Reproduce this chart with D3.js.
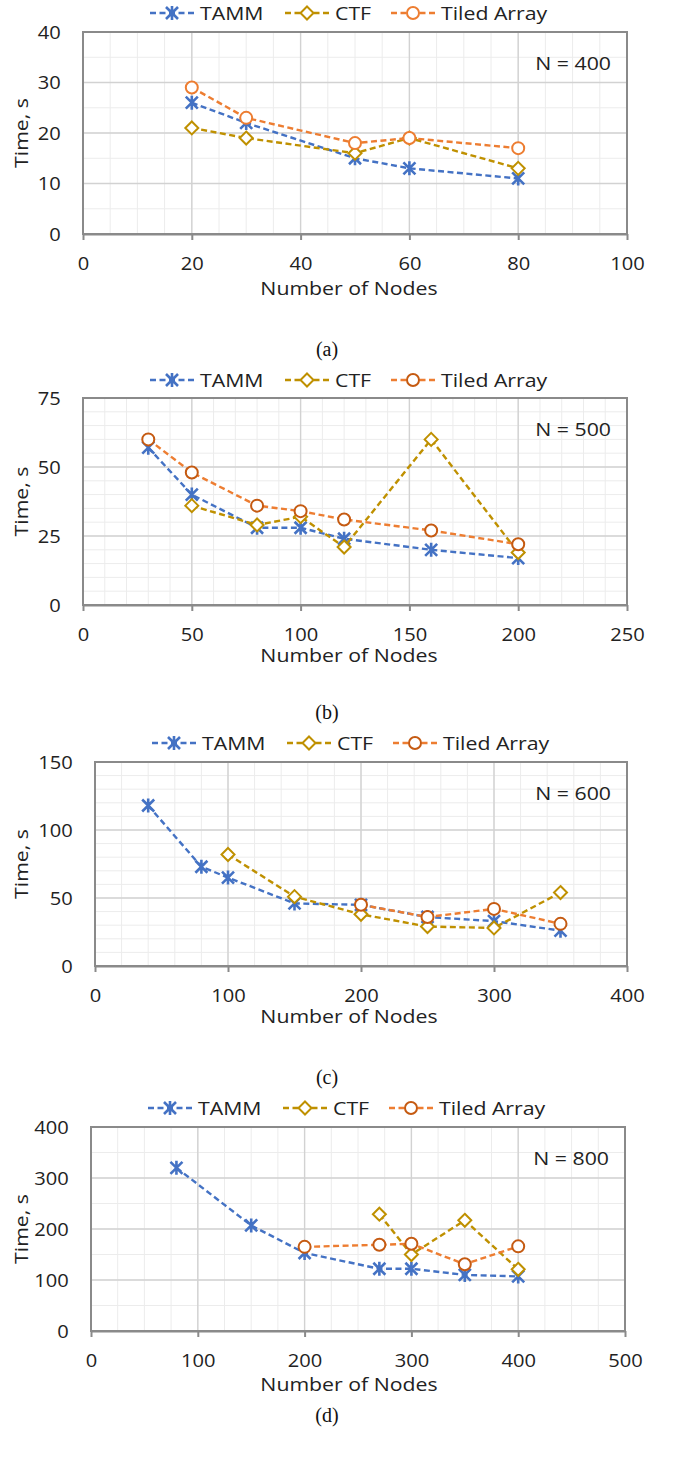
<!DOCTYPE html>
<html>
<head>
<meta charset="utf-8">
<script src="https://cdn.jsdelivr.net/npm/d3@7"></script>
<style>
  body { margin: 0; background: #fff; }
  svg { display: block; }
</style>
</head>
<body>
<svg id="chart"></svg>
<script>
// ---- data ----
const seriesNames = ["TAMM", "CTF", "Tiled Array"];

// (a) N = 400
const nodesA = [20, 30, 50, 60, 80];
const tammA = [26, 22, 15, 13, 11];
const ctfA = [21, 19, 16, 19, 13];
const tiledA = [29, 23, 18, 19, 17];

// (b) N = 500
const nodesB = [30, 50, 80, 100, 120, 160, 200];
const tammB = [57, 40, 28, 28, 24, 20, 17];
const ctfNodesB = [50, 80, 100, 120, 160, 200];
const ctfB = [36, 29, 32, 21, 60, 19];
const tiledB = [60, 48, 36, 34, 31, 27, 22];

// (c) N = 600
const tammNodesC = [40, 80, 100, 150, 200, 250, 300, 350];
const tammC = [118, 73, 65, 46, 45, 36, 33, 26];
const ctfNodesC = [100, 150, 200, 250, 300, 350];
const ctfC = [82, 51, 38, 29, 28, 54];
const tiledNodesC = [200, 250, 300, 350];
const tiledC = [45, 36, 42, 31];

// (d) N = 800
const tammNodesD = [80, 150, 200, 270, 300, 350, 400];
const tammD = [320, 207, 153, 122, 122, 110, 107];
const ctfNodesD = [270, 300, 350, 400];
const ctfD = [229, 150, 217, 121];
const tiledNodesD = [200, 270, 300, 350, 400];
const tiledD = [165, 169, 171, 131, 166];

const zip = (xs, ys) => xs.map((x, i) => ({x: x, y: ys[i]}));

const W = 673, H = 1457;
const FONT = "'Open Sans', sans-serif";
const FS = 19;
const SX = 1.12;          // titles / legend are a bit wider than the font
const SX_TICK = 1.06;
const TXT = "#222";

const colors = {tamm: "#4472C4", ctf: "#BF9000", tiled: "#ED7D31"};

const panels = [
  {box: [83, 32, 627, 234], xMax: 100, xMajor: 20, xMinor: 5, yMax: 40, yMajor: 10, yMinor: 5,
   label: "N = 400", caption: "(a)", capY: 349, legY: 13, legDx: 0, titleY: 288, tiledMark: "#ED7D31",
   data: [zip(nodesA, tammA), zip(nodesA, ctfA), zip(nodesA, tiledA)]},
  {box: [83, 398, 627, 605], xMax: 250, xMajor: 50, xMinor: 10, yMax: 75, yMajor: 25, yMinor: 5,
   label: "N = 500", caption: "(b)", capY: 712, legY: 380, legDx: 0, titleY: 655, tiledMark: "#C55A11",
   data: [zip(nodesB, tammB), zip(ctfNodesB, ctfB), zip(nodesB, tiledB)]},
  {box: [95, 762, 627, 966], xMax: 400, xMajor: 100, xMinor: 20, yMax: 150, yMajor: 50, yMinor: 10,
   label: "N = 600", caption: "(c)", capY: 1077, legY: 743, legDx: 2, titleY: 1016, tiledMark: "#C55A11",
   data: [zip(tammNodesC, tammC), zip(ctfNodesC, ctfC), zip(tiledNodesC, tiledC)]},
  {box: [91, 1127, 625, 1331], xMax: 500, xMajor: 100, xMinor: 25, yMax: 400, yMajor: 100, yMinor: 50,
   label: "N = 800", caption: "(d)", capY: 1415, legY: 1108, legDx: -2, titleY: 1384, tiledMark: "#C55A11",
   data: [zip(tammNodesD, tammD), zip(ctfNodesD, ctfD), zip(tiledNodesD, tiledD)]}
];

const svg = d3.select("#chart").attr("width", W).attr("height", H);
svg.append("rect").attr("width", W).attr("height", H).attr("fill", "#fff");

function label(g, x, y, str, anchor, rot) {
  return g.append("text")
    .attr("transform", `translate(${x},${y})` + (rot ? ` rotate(${rot})` : "") + ` scale(${SX},1)`)
    .attr("text-anchor", anchor || "middle")
    .attr("font-family", FONT)
    .attr("font-size", FS)
    .attr("fill", TXT)
    .text(str);
}

function drawMarker(g, kind, x, y, color) {
  if (kind === 0) {
    const r = 6;
    g.append("path")
      .attr("d", `M${x - r},${y - r}L${x + r},${y + r}M${x - r},${y + r}L${x + r},${y - r}M${x},${y - r - 1}L${x},${y + r + 1}`)
      .attr("stroke", color).attr("stroke-width", 2.6).attr("fill", "none");
  } else if (kind === 1) {
    const r = 6.5;
    g.append("path")
      .attr("d", `M${x},${y - r}L${x + r},${y}L${x},${y + r}L${x - r},${y}Z`)
      .attr("stroke", color).attr("stroke-width", 2).attr("fill", "#fff");
  } else {
    g.append("circle").attr("cx", x).attr("cy", y).attr("r", 6)
      .attr("stroke", color).attr("stroke-width", 2).attr("fill", "#fff");
  }
}

function drawPanel(p) {
  const [x0, y0, x1, y1] = p.box;
  const g = svg.append("g");

  const x = d3.scaleLinear().domain([0, p.xMax]).range([x0, x1]);
  const y = d3.scaleLinear().domain([0, p.yMax]).range([y1, y0]);

  // minor grid
  g.append("g").selectAll("line")
    .data(d3.range(0, p.xMax + 0.001, p.xMinor))
    .join("line")
      .attr("x1", d => x(d)).attr("x2", d => x(d))
      .attr("y1", y0).attr("y2", y1)
      .attr("stroke", "#ececec").attr("stroke-width", 1);
  g.append("g").selectAll("line")
    .data(d3.range(0, p.yMax + 0.001, p.yMinor))
    .join("line")
      .attr("x1", x0).attr("x2", x1)
      .attr("y1", d => y(d)).attr("y2", d => y(d))
      .attr("stroke", "#ececec").attr("stroke-width", 1);
  // major grid
  g.append("g").selectAll("line")
    .data(d3.range(0, p.xMax + 0.001, p.xMajor))
    .join("line")
      .attr("x1", d => x(d)).attr("x2", d => x(d))
      .attr("y1", y0).attr("y2", y1)
      .attr("stroke", "#d2d2d2").attr("stroke-width", 1.4);
  g.append("g").selectAll("line")
    .data(d3.range(0, p.yMax + 0.001, p.yMajor))
    .join("line")
      .attr("x1", x0).attr("x2", x1)
      .attr("y1", d => y(d)).attr("y2", d => y(d))
      .attr("stroke", "#d2d2d2").attr("stroke-width", 1.4);

  // frame
  g.append("rect")
    .attr("x", x0).attr("y", y0).attr("width", x1 - x0).attr("height", y1 - y0)
    .attr("fill", "none").attr("stroke", "#8a8a8a").attr("stroke-width", 2);

  // x axis
  const xAxis = d3.axisBottom(x)
    .tickValues(d3.range(0, p.xMax + 0.001, p.xMajor))
    .tickSize(6).tickSizeOuter(0).tickPadding(17)
    .tickFormat(d3.format("d"));
  const xa = g.append("g").attr("transform", `translate(0,${y1})`).call(xAxis);
  xa.select(".domain").attr("stroke", "#8a8a8a").attr("stroke-width", 2);
  xa.selectAll(".tick line").attr("stroke", "#8a8a8a").attr("stroke-width", 2);
  xa.selectAll(".tick text")
    .attr("font-family", FONT).attr("font-size", FS).attr("fill", TXT)
    .attr("transform", `scale(${SX_TICK},1)`);

  // y axis
  const yAxis = d3.axisLeft(y)
    .tickValues(d3.range(0, p.yMax + 0.001, p.yMajor))
    .tickSize(0).tickPadding(21)
    .tickFormat(d3.format("d"));
  const ya = g.append("g").attr("transform", `translate(${x0},0)`).call(yAxis);
  ya.select(".domain").remove();
  ya.selectAll(".tick text")
    .attr("font-family", FONT).attr("font-size", FS).attr("fill", TXT)
    .attr("transform", `scale(${SX_TICK},1)`);

  // titles
  label(g, 349, p.titleY + 6.8, "Number of Nodes");
  label(g, 28, (y0 + y1) / 2, "Time, s", "middle", -90);
  label(g, x1 - 16, y0 + 31 + 6.8, p.label, "end");

  g.append("text")
    .attr("x", 327).attr("y", p.capY + 6.5)
    .attr("text-anchor", "middle")
    .attr("font-family", "'Liberation Serif', serif")
    .attr("font-size", 20).attr("fill", "#111")
    .text(p.caption);

  // series
  const line = d3.line().x(d => x(d.x)).y(d => y(d.y));
  const lineColors = [colors.tamm, colors.ctf, colors.tiled];
  const markColors = [colors.tamm, colors.ctf, p.tiledMark];
  p.data.forEach((pts, k) => {
    const sg = g.append("g");
    sg.append("path")
      .datum(pts)
      .attr("d", line)
      .attr("fill", "none")
      .attr("stroke", lineColors[k])
      .attr("stroke-width", 2.4)
      .attr("stroke-dasharray", "6,3.5");
    pts.forEach(d => drawMarker(sg, k, x(d.x), y(d.y), markColors[k]));
  });

  // legend
  const legX = [172, 307, 413];
  seriesNames.forEach((name, k) => {
    const cx = legX[k] + p.legDx;
    const lg = g.append("g");
    lg.append("line")
      .attr("x1", cx - 22).attr("x2", cx + 22)
      .attr("y1", p.legY).attr("y2", p.legY)
      .attr("stroke", lineColors[k]).attr("stroke-width", 2.4)
      .attr("stroke-dasharray", "6,3.5");
    drawMarker(lg, k, cx, p.legY, markColors[k]);
    label(lg, cx + 28, p.legY + 6.8, name, "start");
  });
}

panels.forEach(drawPanel);
</script>
</body>
</html>
